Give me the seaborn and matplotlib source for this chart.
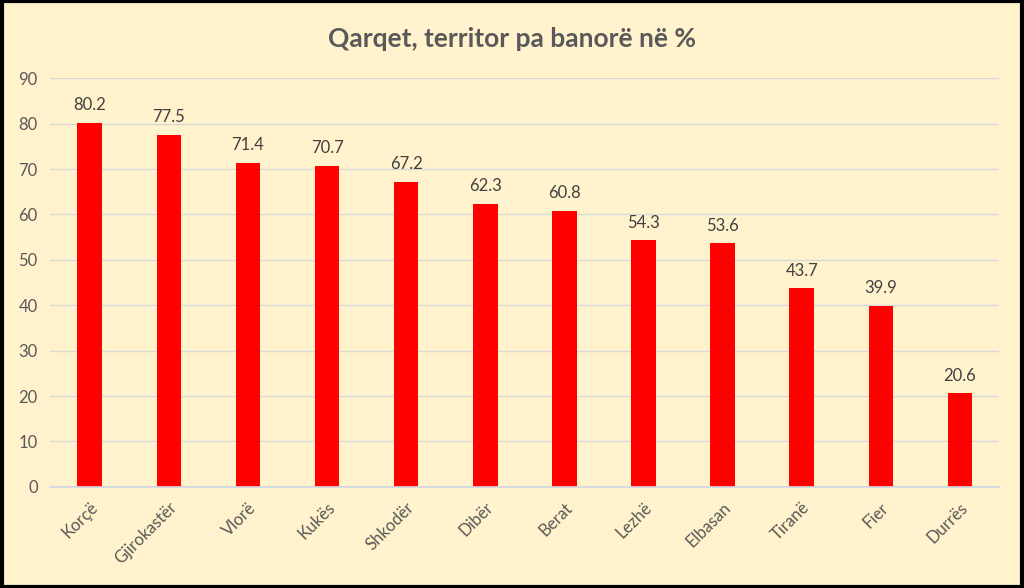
import matplotlib
matplotlib.use("Agg")
import matplotlib.pyplot as plt
import seaborn as sns
import pandas as pd
from matplotlib.patches import Rectangle

# data
qarqet = ["Korçë", "Gjirokastër", "Vlorë", "Kukës", "Shkodër", "Dibër",
          "Berat", "Lezhë", "Elbasan", "Tiranë", "Fier", "Durrës"]
perqindja = [80.2, 77.5, 71.4, 70.7, 67.2, 62.3, 60.8, 54.3, 53.6, 43.7, 39.9, 20.6]
y_ticks = [0, 10, 20, 30, 40, 50, 60, 70, 80, 90]
titulli = "Qarqet, territor pa banorë në %"

BG = "#FFF2CC"
TXT = "#595959"

sns.set_theme(style="white")
plt.rcParams['font.family'] = ['Lato', 'DejaVu Sans']

df = pd.DataFrame({"Qarku": qarqet, "Perqindja": perqindja})

fig = plt.figure(figsize=(10.24, 5.88), dpi=100, facecolor=BG)
ax = fig.add_axes([0.049, 0.172, 0.927, 0.695])
ax.set_facecolor(BG)

sns.barplot(data=df, x="Qarku", y="Perqindja", color="#FF0000",
            saturation=1, width=0.31, linewidth=0, edgecolor="none", ax=ax)

ax.set_ylim(0, 90)
ax.set_xlim(-0.5, len(qarqet) - 0.5)
ax.set_yticks(y_ticks)
ax.yaxis.grid(True, color="#D9D9D9", linewidth=1)
ax.set_axisbelow(True)
for s in ["top", "right", "left"]:
    ax.spines[s].set_visible(False)
ax.spines["bottom"].set_color("#D0D7E5")
ax.spines["bottom"].set_linewidth(1.2)
ax.set_xlabel("")
ax.set_ylabel("")
ax.tick_params(axis="both", length=0, labelsize=12, colors=TXT, pad=9)
plt.setp(ax.get_xticklabels(), rotation=45, ha="right", rotation_mode="anchor")

for c in ax.containers:
    ax.bar_label(c, fmt="%.1f", padding=7, fontsize=12, color="#404040")

fig.text(0.5, 0.933, titulli, ha="center", va="center", fontsize=19,
         fontweight="bold", color=TXT)

# black frame around the figure
fig.patches.append(Rectangle((0.0015, 0.0025), 0.997, 0.995, transform=fig.transFigure,
                             fill=False, edgecolor="black", linewidth=3))

fig.savefig("out.png", dpi=100, facecolor=BG)
